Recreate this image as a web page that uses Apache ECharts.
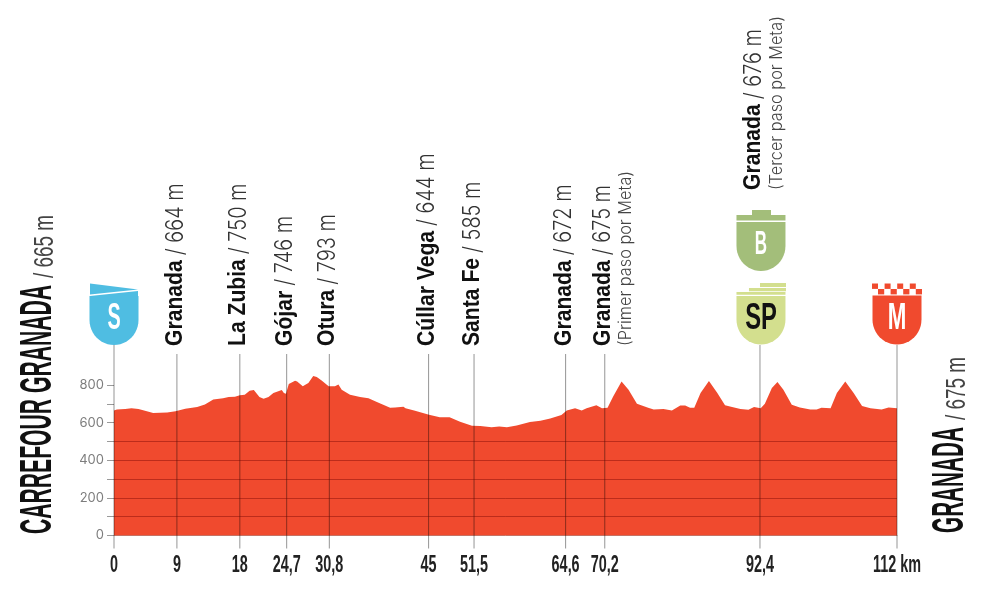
<!DOCTYPE html>
<html>
<head>
<meta charset="utf-8">
<style>html,body{margin:0;padding:0;background:#fff}#main{width:1000px;height:600px}</style>
<script src="https://cdn.jsdelivr.net/npm/echarts@6/dist/echarts.min.js"></script>
</head>
<body>
<div id="main"></div>
<script>
// profile: km / metres
var profileKm = [0,0.4,1.6,1.8,2.5,3.5,4.7,5.6,7.6,8.8,10.2,11.9,13,14.2,15.6,16.4,17.3,18,18.7,19.4,20,20.8,21.4,22.1,22.8,24,24.3,24.6,25,25.9,26.2,27,27.8,28.5,29,29.7,30.7,31.6,32.1,32.57,33.76,35.2,36.4,37.6,39.5,40.2,41.4,41.7,43.06,45.06,46.6,48,49.5,51.2,52.4,54,55.1,56.2,57.6,59.5,61,62.4,64,64.76,65.95,66.9,67.6,69,69.8,70.6,71.4,72.6,73.6,74.8,76.4,77.2,78.6,79.8,81,81.7,82.4,83,83.9,85.1,86.3,87.4,88.4,89.6,90.75,91.55,92.5,93.1,94.1,94.9,95.75,96.95,98.1,99.6,100.5,101.2,102.5,103.4,104.6,105.8,107,108.2,109.8,110.8,112];
var profileElev = [665,670,672,665,677,672,660,651,654,661,674,683,697,723,730,736,738,746,748,769,773,736,727,736,757,773,757,754,805,823,819,793,810,848,842,824,793,793,803,775,748,736,730,709,679,681,684,676,663,642,628,629,605,583,582,576,580,576,585,603,610,622,640,665,676,665,677,693,677,679,739,819,775,700,679,670,672,665,691,691,679,679,757,821,757,693,683,672,668,683,676,700,784,816,775,695,681,670,670,679,677,757,819,757,688,677,670,681,676];

var stopKm = [9,18,24.7,30.8,45,51.5,64.6,70.2,92.4];
var stopNames = ['Granada','La Zubia','Gójar','Otura','Cúllar Vega','Santa Fe','Granada','Granada','Granada'];
var stopHeights = [664,750,746,793,644,585,672,675,676];
var stopNotes = ['','','','','','','','(Primer paso por Meta)','(Tercer paso por Meta)'];
var markerKm = [0,92.4,112];
var tickKm = [0,9,18,24.7,30.8,45,51.5,64.6,70.2,92.4,112];
var gridLevels = [100,200,300,400,500];
var startName = 'CARREFOUR GRANADA';
var startHeight = 665;
var finishName = 'GRANADA';
var finishHeight = 675;

var RED = '#F04A2E';
var NARROW = '"Liberation Sans Narrow","Liberation Sans",sans-serif';
var HELV = '"Liberation Sans",Arial,sans-serif';
var SANS = 'Inter,"Noto Sans",sans-serif';

var ctx = document.createElement('canvas').getContext('2d');
function textW(text, size, weight, family) {
  ctx.font = weight + ' ' + size + 'px ' + family;
  return ctx.measureText(text).width;
}
// text running upwards, squeezed along its length by sx
function upText(x, y, text, size, weight, family, color, sx) {
  return {
    type: 'text', x: x, y: y, rotation: Math.PI / 2, scaleX: sx,
    style: { text: text, fontSize: size, fontWeight: weight, fontFamily: family, fill: color, align: 'left', verticalAlign: 'middle' }
  };
}
function upFit(x, y, text, size, weight, family, color, len) {
  return upText(x, y, text, size, weight, family, color, len / textW(text, size, weight, family));
}
function flatText(cx, cy, text, size, color, sx) {
  return {
    type: 'text', x: cx, y: cy, scaleX: sx,
    style: { text: text, fontSize: size, fontWeight: 'bold', fontFamily: NARROW, fill: color, align: 'center', verticalAlign: 'middle' }
  };
}
// shield body, flat top and round bottom
function shield(cx, top, bottom, color) {
  var w = 24.5, r = 25, pts = [[cx - w, top], [cx + w, top]];
  for (var i = 0; i <= 24; i++) {
    var a = Math.PI * i / 24;
    pts.push([cx + w * Math.cos(a), bottom - r + r * Math.sin(a)]);
  }
  return { type: 'polygon', shape: { points: pts }, style: { fill: color } };
}
function box(x, y, w, h, color) {
  return { type: 'rect', shape: { x: x, y: y, width: w, height: h }, style: { fill: color } };
}

function renderStem(params, api) {
  var km = api.value(0);
  var p = api.coord([km, 0]);
  var isMarker = markerKm.indexOf(km) >= 0;
  return {
    type: 'line',
    shape: { x1: p[0], y1: isMarker ? 345 : 354, x2: p[0], y2: p[1] + 13 },
    style: { stroke: 'rgba(0,0,0,0.42)', lineWidth: 1 }
  };
}

var nameScale = 0.88;
var restScale = 72 / textW('/ 664 m', 24, 300, SANS);
var noteScale = 175 / textW(stopNotes[7], 17, 300, SANS);

function renderStop(params, api) {
  var i = api.value(1);
  var x = api.coord([api.value(0), 0])[0];
  var lifted = stopKm[i] === 92.4;
  var base = lifted ? 190 : 346;
  var cx = lifted ? x - 6.5 : x - 1.5;
  var nameW = textW(stopNames[i], 24, 'bold', HELV) * nameScale;
  var kids = [
    upText(cx, base, stopNames[i], 24, 'bold', HELV, '#111', nameScale),
    upText(cx, base - nameW - 5, '/ ' + stopHeights[i] + ' m', 24, 300, SANS, '#333', restScale)
  ];
  if (stopNotes[i]) kids.push(upText(cx + 23, base, stopNotes[i], 17, 300, SANS, '#444', noteScale));
  return { type: 'group', children: kids };
}

function renderMarker(params, api) {
  var km = api.value(0);
  var x = api.coord([km, 0])[0];
  var kids = [];
  if (km === 0) {
    kids.push({ type: 'polygon', shape: { points: [[x - 24, 283.5], [x + 24, 289.5], [x - 24, 294.5]] }, style: { fill: '#4FBDE2' } });
    kids.push({ type: 'polygon', shape: { points: [[x - 24, 296], [x + 24, 291], [x + 24, 320], [x, 345], [x - 24, 320]] }, style: { fill: '#4FBDE2' } });
    kids.push(shield(x, 296, 345, '#4FBDE2'));
    kids.push(flatText(x, 319, 'S', 36, '#fff', 0.55));
  } else if (km === 92.4) {
    var sx = x + 1;
    kids.push(box(sx - 1, 283, 26, 4, '#D3DF8E'));
    kids.push(box(sx - 12, 288, 37, 3.2, '#D3DF8E'));
    kids.push(box(sx - 24.5, 292, 49, 2.8, '#D3DF8E'));
    kids.push(shield(sx, 296, 344.5, '#D3DF8E'));
    kids.push(flatText(sx, 319, 'SP', 36, '#111', 0.66));
    // the B shield stands on top of the SP one
    kids.push(box(sx - 9, 210, 19, 5, '#A3BE7A'));
    kids.push(box(sx - 24.5, 215, 49, 5.5, '#A3BE7A'));
    kids.push(shield(sx, 222, 271, '#A3BE7A'));
    kids.push(flatText(sx, 245, 'B', 34, '#fff', 0.5));
  } else {
    for (var c = 0; c < 4; c++) {
      kids.push(box(x - 25 + c * 12.6, 283.5, 6, 5.4, RED));
      kids.push(box(x - 19 + c * 12.6, 289, 6.2, 5.4, RED));
    }
    kids.push(shield(x, 295.5, 344.5, RED));
    kids.push(flatText(x, 319, 'M', 36, '#fff', 0.62));
  }
  return { type: 'group', children: kids };
}

function renderTick(params, api) {
  var km = api.value(0);
  var x = api.coord([km, 0])[0];
  var text = String(km).replace('.', ',') + (km === 112 ? ' km' : '');
  return flatText(x, 565, text, 24, '#222', 28 / textW('24,7', 24, 'bold', NARROW));
}

var chart = echarts.init(document.getElementById('main'), null, { renderer: 'canvas' });
chart.setOption({
  animation: false,
  backgroundColor: '#fff',
  grid: { left: 114, right: 103, top: 385, bottom: 64.5 },
  xAxis: {
    type: 'value', min: 0, max: 112,
    axisLine: { show: true, lineStyle: { color: '#9a9a9a', width: 1 } },
    axisTick: { show: false }, axisLabel: { show: false }, splitLine: { show: false }
  },
  yAxis: {
    type: 'value', min: 0, max: 800, interval: 100,
    axisLine: { show: false },
    axisTick: { show: true, length: 7, lineStyle: { color: '#9a9a9a', width: 1 } },
    axisLabel: {
      margin: 10, color: '#7d7d7d', fontFamily: SANS, fontSize: 13,
      formatter: function (v) { return v % 200 === 0 ? String(v) : ''; }
    },
    splitLine: { show: false }
  },
  series: [
    {
      type: 'line', clip: false, symbol: 'none', z: 2,
      data: profileKm.map(function (k, i) { return [k, profileElev[i]]; }),
      lineStyle: { width: 0 },
      areaStyle: { color: RED, opacity: 1 },
      markLine: {
        silent: true, symbol: 'none', label: { show: false },
        lineStyle: { color: 'rgba(110,0,0,0.4)', width: 1, type: 'solid' },
        data: gridLevels.map(function (v) { return { yAxis: v }; })
      }
    },
    { type: 'custom', z: 3, clip: false, renderItem: renderStem, data: tickKm.map(function (k) { return [k, 0]; }) },
    { type: 'custom', z: 4, clip: false, renderItem: renderStop, data: stopKm.map(function (k, i) { return [k, i]; }) },
    { type: 'custom', z: 5, clip: false, renderItem: renderMarker, data: markerKm.map(function (k) { return [k, 0]; }) },
    { type: 'custom', z: 4, clip: false, renderItem: renderTick, data: tickKm.map(function (k) { return [k, 0]; }) }
  ],
  graphic: [
    upFit(39, 534, startName, 44, 'bold', NARROW, '#111', 249),
    upFit(45, 278, '/ ' + startHeight + ' m', 28, 'normal', NARROW, '#444', 63),
    upFit(951, 533, finishName, 44, 'bold', NARROW, '#111', 106),
    upFit(957, 420, '/ ' + finishHeight + ' m', 28, 'normal', NARROW, '#444', 63)
  ]
});
</script>
</body>
</html>
